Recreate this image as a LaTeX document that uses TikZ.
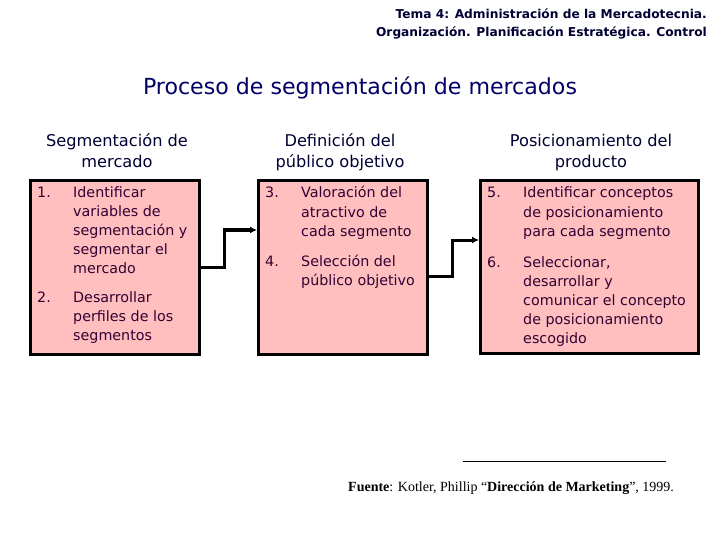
\documentclass[tikz,border=0pt]{standalone}
\usepackage{fontspec}
\setmainfont{DejaVu Sans}
\newfontfamily\footfont{Liberation Serif}
\usetikzlibrary{arrows.meta}
\definecolor{titleblue}{HTML}{000066}
\definecolor{headblue}{HTML}{000033}
\definecolor{itemtext}{HTML}{330033}
\definecolor{boxpink}{HTML}{FFBFBF}
\tikzset{
  pbox/.style={draw=black, line width=2.6pt, fill=boxpink, rectangle, inner sep=0pt, anchor=north west},
  num/.style={anchor=base west, inner sep=0pt, text=itemtext, font=\fontsize{14.3}{19.2}\selectfont},
  itm/.style={anchor=base west, inner sep=0pt, text=itemtext},
  heading/.style={anchor=base, inner sep=0pt, text=headblue},
  hdr/.style={anchor=base east, inner sep=0pt, text=headblue, font=\bfseries\fontsize{12.2}{18}\selectfont},
  conn/.style={line width=3pt, -{Latex[length=7pt,width=7pt]}},
}
\newcommand{\itemtxt}[1]{\parbox[t]{200pt}{\raggedright\fontsize{14.3}{19.2}\selectfont #1}}
\newcommand{\headtxt}[1]{\parbox[t]{240pt}{\centering\fontsize{16.2}{21}\selectfont #1}}
\begin{document}
\begin{tikzpicture}[x=1pt,y=-1pt]
\useasboundingbox (0,0) rectangle (720,540);
% header
\node[hdr] (hdr1) at (707,19) {Tema 4: Administración de la Mercadotecnia.};
\node[hdr] (hdr2) at (707,37) {Organización. Planificación Estratégica. Control};
% title
\node[anchor=base, inner sep=0pt, text=titleblue, font=\fontsize{22.1}{24}\selectfont] (title) at (360,95) {Proceso de segmentación de mercados};
% headings
\node[heading] (h1) at (117,147) {\headtxt{Segmentación de\\mercado}};
\node[heading] (h2) at (340,147) {\headtxt{Definición del\\público objetivo}};
\node[heading] (h3) at (591,147) {\headtxt{Posicionamiento del\\producto}};
% boxes
\node[pbox, minimum width=169pt, minimum height=174pt] (b1) at (29,179) {};
\node[pbox, minimum width=169pt, minimum height=174pt] (b2) at (257,179) {};
\node[pbox, minimum width=218pt, minimum height=173pt] (b3) at (479,179) {};
% box 1 items
\node[num] (n1) at (37,197) {1.};
\node[itm] (t1) at (73,197) {\itemtxt{Identificar\\variables de\\segmentación y\\segmentar el\\mercado}};
\node[num] (n2) at (37,302) {2.};
\node[itm] (t2) at (73,302) {\itemtxt{Desarrollar\\perfiles de los\\segmentos}};
% box 2 items
\node[num] (n3) at (265,198) {3.};
\node[itm] (t3) at (301,198) {\itemtxt{Valoración del\\atractivo de\\cada segmento}};
\node[num] (n4) at (265,266) {4.};
\node[itm] (t4) at (301,266) {\itemtxt{Selección del\\público objetivo}};
% box 3 items
\node[num] (n5) at (487,198) {5.};
\node[itm] (t5) at (523,198) {\itemtxt{Identificar conceptos\\de posicionamiento\\para cada segmento}};
\node[num] (n6) at (487,267) {6.};
\node[itm] (t6) at (523,267) {\itemtxt{Seleccionar,\\desarrollar y\\comunicar el concepto\\de posicionamiento\\escogido}};
% connectors
\coordinate (k1) at (224,267);
\coordinate (k2) at (452,276);
\draw[conn] (b1.east |- k1) -- (k1) |- (b2.west |- 0,230);
\draw[conn] (b2.east |- k2) -- (k2) |- (b3.west |- 0,240);
% footer
\coordinate (fl1) at (463,461);
\coordinate (fl2) at (666,461);
\draw[line width=1pt] (fl1) -- (fl2);
\node[anchor=base west, inner sep=0pt, font=\footfont\fontsize{14}{16}\selectfont] (src) at (348,491) {\textbf{Fuente}: Kotler, Phillip “\textbf{Dirección de Marketing}”, 1999.};
\end{tikzpicture}
\end{document}
